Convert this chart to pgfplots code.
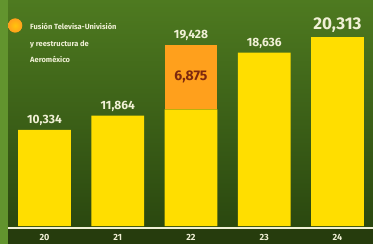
\documentclass[border=0pt]{standalone}
\usepackage{pgfplots}
\pgfplotsset{compat=1.18}
\usepackage{fontspec}
\setmainfont{Fira Sans}
\definecolor{bgtop}{RGB}{78,122,32}
\definecolor{bgbot}{RGB}{40,68,14}
\definecolor{bandc}{RGB}{38,60,13}
\definecolor{stripc}{RGB}{98,148,46}
\definecolor{barY}{RGB}{255,222,0}
\definecolor{barO}{RGB}{255,160,28}
\definecolor{txt}{RGB}{240,240,214}
\definecolor{redsix}{RGB}{125,40,14}
\begin{document}
\begin{tikzpicture}
\shade[top color=bgtop, bottom color=bgbot] (0,0) rectangle (373pt,244pt);
\fill[stripc] (0,0) rectangle (8.2pt,244pt);
\fill[bandc] (8.2pt,0) rectangle (373pt,15.2pt);
\begin{axis}[
  at={(0,0)}, anchor=south west,
  scale only axis, width=373pt, height=244pt,
  xmin=-0.6075, xmax=4.485, ymin=-1935, ymax=24300,
  axis line style={draw=none},
  ybar stacked, bar width=0.72,
  xtick={0,1,2,3,4}, xticklabels={20,21,22,23,24},
  ytick=\empty, major tick length=0pt,
  xticklabel style={anchor=center, yshift=6.5pt, text=txt, font=\bfseries\fontsize{9}{10}\selectfont},
  legend style={at={(rel axis cs:0.0215,0.925)}, anchor=north west, draw=none, fill=none,
    inner sep=0pt, row sep=7pt, column sep=8pt, text=txt,
    font=\bfseries\fontsize{7.5}{8}\selectfont,
    nodes={inner sep=0pt, text height=7pt, text depth=2pt}},
  legend cell align=left,
  clip=false,
]
\addplot[fill=barY, draw=none, forget plot] coordinates {(0,10334) (1,11864) (2,12553) (3,18636) (4,20313)};
\addplot[fill=barO, draw=none, legend image code/.code={\shade[inner color=barY!60!barO, outer color=barO] (0pt,1.5pt) circle (7pt);}]
  coordinates {(0,0) (1,0) (2,6875) (3,0) (4,0)};
\addlegendentry{Fusión Televisa-Univisión}
\addlegendimage{empty legend}
\addlegendentry{y reestructura de}
\addlegendimage{empty legend}
\addlegendentry{Aeroméxico}
\coordinate (l0) at (axis cs:0,10334);
\coordinate (l1) at (axis cs:1,11864);
\coordinate (l2) at (axis cs:2,19428);
\coordinate (l3) at (axis cs:3,18636);
\coordinate (l4) at (axis cs:4,20313);
\coordinate (l6) at (axis cs:2,15990);
\end{axis}
\draw[txt, line width=1.8pt] (8.2pt,16.3pt) -- (373pt,16.3pt);
\tikzset{lab/.style={anchor=south, text=txt, font=\bfseries\fontsize{12}{13}\selectfont, inner sep=0pt, yshift=4pt}}
\node[lab] at (l0) {10,334};
\node[lab] at (l1) {11,864};
\node[lab] at (l2) {19,428};
\node[lab] at (l3) {18,636};
\node[lab, font=\bfseries\fontsize{17}{18}\selectfont] at (l4) {20,313};
\node[text=redsix, font=\bfseries\fontsize{14}{15}\selectfont] at (l6) {6,875};
\pgfresetboundingbox
\path (0,0) rectangle (373pt,244pt);
\end{tikzpicture}
\end{document}
